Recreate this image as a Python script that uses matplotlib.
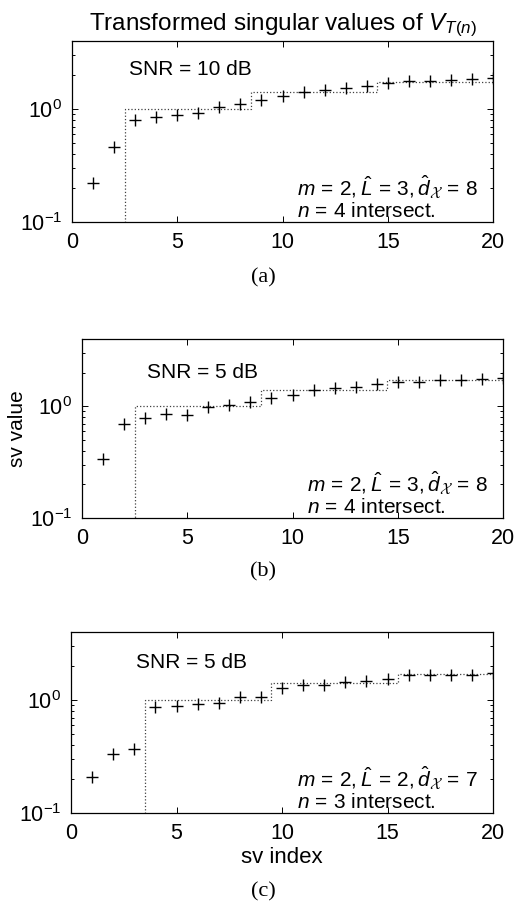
import numpy as np
import matplotlib
matplotlib.use('Agg')
import matplotlib.pyplot as plt

plt.rcParams['font.family'] = ['Liberation Sans', 'DejaVu Sans']
plt.rcParams['mathtext.fontset'] = 'custom'
plt.rcParams['mathtext.rm'] = 'Liberation Sans'
plt.rcParams['mathtext.it'] = 'Liberation Sans:italic'
plt.rcParams['mathtext.cal'] = 'cmsy10'

# singular value index
sv_index = list(range(1, 21))

# panel (a): SNR = 10 dB
sv_a = [0.223, 0.46, 0.80, 0.855, 0.885, 0.93, 1.05, 1.11, 1.20, 1.30,
        1.42, 1.47, 1.52, 1.61, 1.71, 1.76, 1.77, 1.81, 1.83, 1.88]
# panel (b): SNR = 5 dB
sv_b = [0.34, 0.70, 0.79, 0.85, 0.84, 0.99, 1.03, 1.10, 1.19, 1.26,
        1.40, 1.46, 1.49, 1.59, 1.65, 1.65, 1.71, 1.72, 1.75, 1.79]
# panel (c): SNR = 5 dB, other setting
sv_c = [0.21, 0.33, 0.37, 0.86, 0.885, 0.92, 0.935, 1.06, 1.07, 1.27,
        1.36, 1.36, 1.44, 1.47, 1.54, 1.65, 1.67, 1.66, 1.67, 1.72]

# theoretical step levels (dotted)
edges_ab = [2.5, 8.5, 14.5, 20]
levels_ab = [1.0, 1.41, 1.73]
edges_c = [3.5, 9.5, 15.5, 20]
levels_c = [1.0, 1.41, 1.71]

snr_labels = ['SNR = 10 dB', 'SNR = 5 dB', 'SNR = 5 dB']
param_labels = [r'$m\,=\,2,\hat{L}\,=\,3,\hat{d}_{\mathcal{X}}\,=\,8$',
                r'$m\,=\,2,\hat{L}\,=\,3,\hat{d}_{\mathcal{X}}\,=\,8$',
                r'$m\,=\,2,\hat{L}\,=\,2,\hat{d}_{\mathcal{X}}\,=\,7$']
n_labels = [r'$n\,=\,4$ intersect.', r'$n\,=\,4$ intersect.', r'$n\,=\,3$ intersect.']
captions = ['(a)', '(b)', '(c)']


def step_line(edges, levels, floor=0.01):
    xs = [edges[0]]
    ys = [floor]
    for i, lev in enumerate(levels):
        xs += [edges[i], edges[i + 1]]
        ys += [lev, lev]
    return xs, ys


W, H = 516, 905
fig = plt.figure(figsize=(W / 100, H / 100), dpi=100)

# axes boxes in pixels: left, top, right, bottom
boxes = [(72, 41, 493, 222), (82, 339, 503, 518), (71, 632, 493, 813)]
series = [sv_a, sv_b, sv_c]
steps = [(edges_ab, levels_ab), (edges_ab, levels_ab), (edges_c, levels_c)]
snr_pos = [(2.7, 2.26), (3.1, 1.99), (3.1, 2.14)]
cap_y = [278, 572, 892]

for k in range(3):
    l, t, r, b = boxes[k]
    ax = fig.add_axes([l / W, 1 - b / H, (r - l) / W, (b - t) / H])
    sx, sy = step_line(*steps[k])
    ax.plot(sx, sy, ':', color='0.25', lw=0.9)
    ax.plot(sv_index, series[k], '+', color='k', ms=8, mew=1.0)
    ax.set_yscale('log')
    ax.set_xlim(0, 20)
    ax.set_ylim(0.1, 4)
    ax.set_xticks([0, 5, 10, 15, 20])
    ax.set_yticks([0.1, 1])
    ax.tick_params(which='both', direction='in', top=True, right=True,
                   labelsize=15.5, width=0.7)
    ax.tick_params(which='major', length=4, pad=7)
    ax.tick_params(which='minor', length=2.5)
    for s in ax.spines.values():
        s.set_linewidth(0.9)

    ax.text(snr_pos[k][0], snr_pos[k][1], snr_labels[k], fontsize=15, va='center')
    ax.text(10.7, 0.205, param_labels[k], fontsize=15, va='center')
    ax.text(10.7, 0.125, n_labels[k], fontsize=15, va='center')

    if k == 0:
        ax.set_title(r'Transformed singular values of $V_{T(n)}$', fontsize=17.5, pad=8)
    if k == 1:
        ax.set_ylabel('sv value', fontsize=15, labelpad=2)
    if k == 2:
        ax.set_xlabel('sv index', fontsize=16, labelpad=2)

    fig.text(263 / W, 1 - cap_y[k] / H, captions[k], fontsize=16,
             family='Liberation Serif', ha='center', va='center')

fig.savefig('out.png', dpi=100)
